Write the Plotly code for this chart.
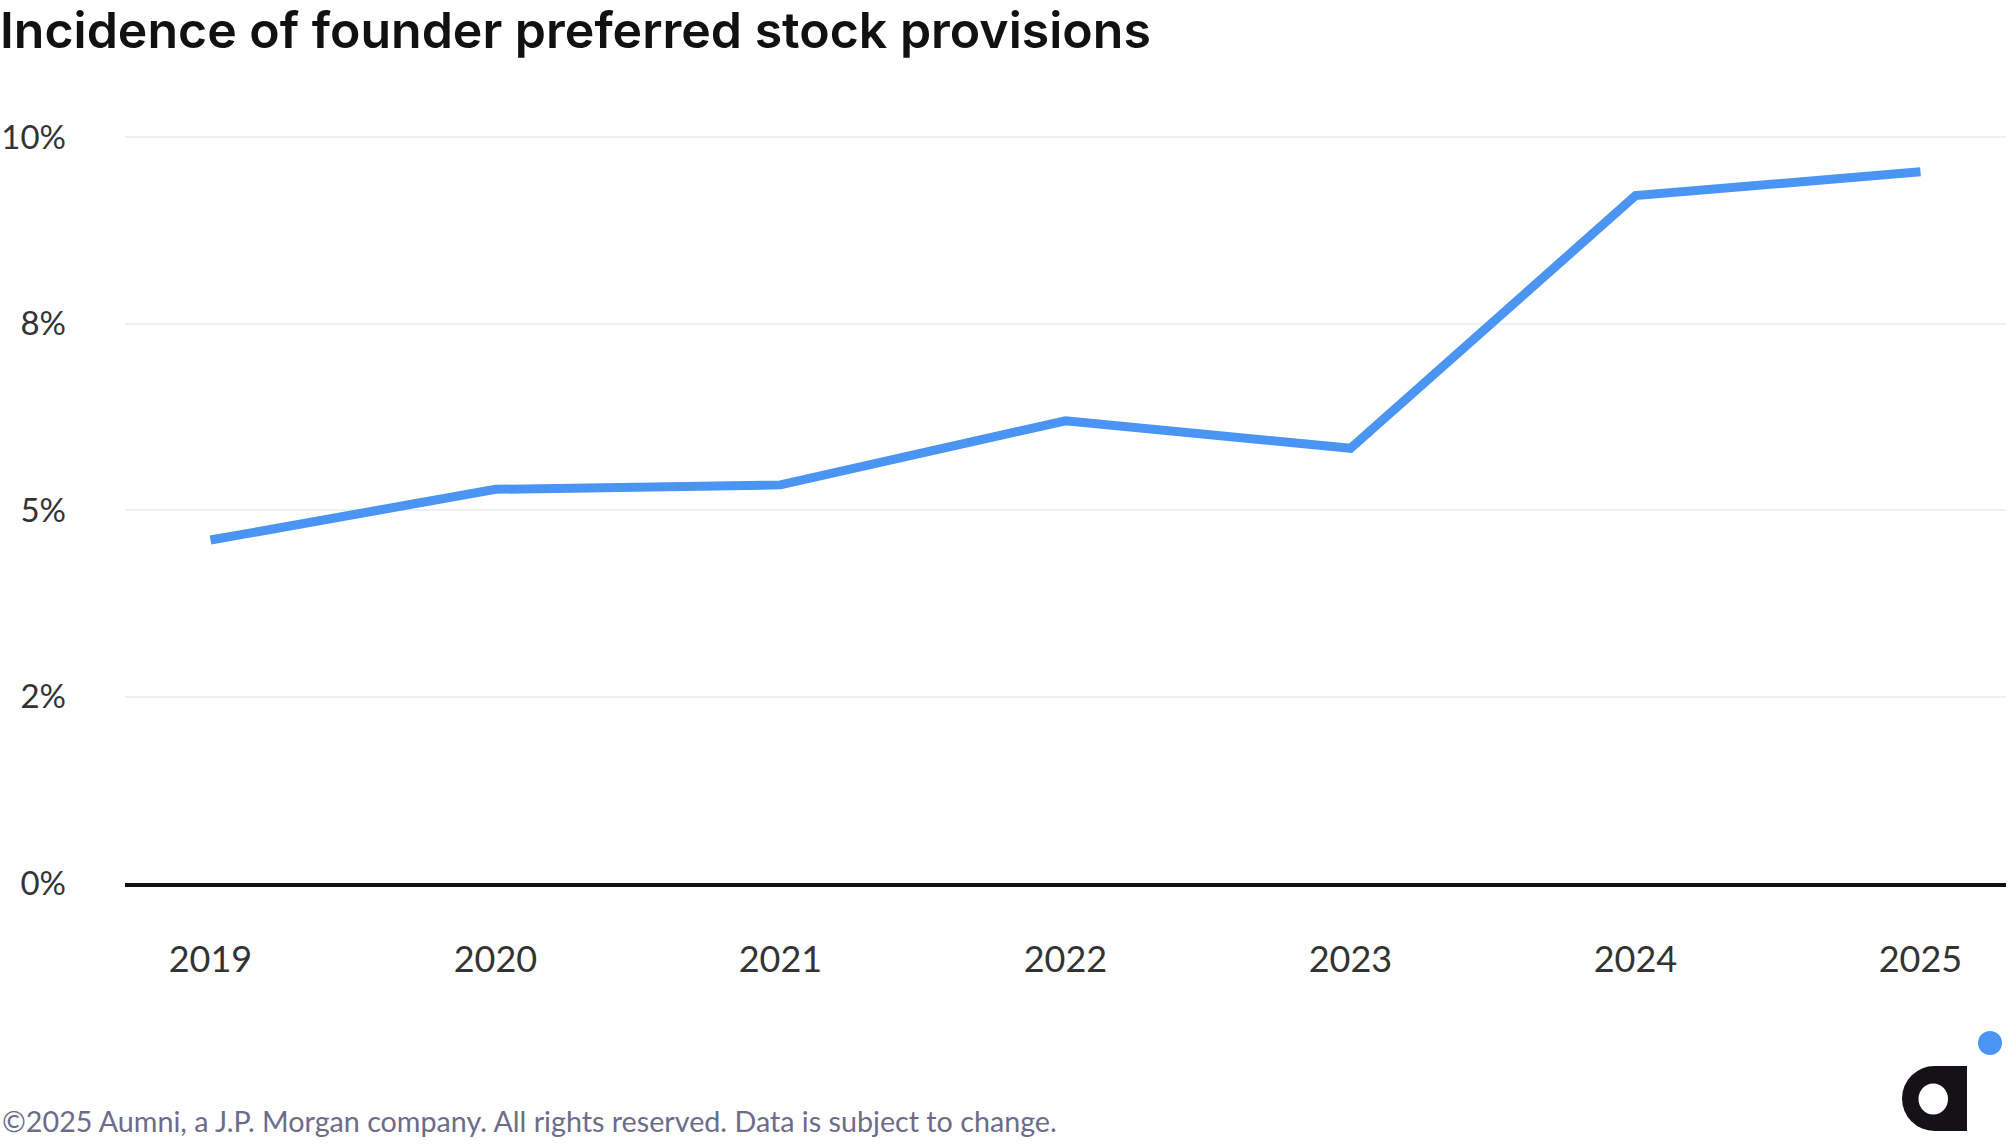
import plotly.graph_objects as go

years = [2019, 2020, 2021, 2022, 2023, 2024, 2025]
incidence = [4.60, 5.28, 5.34, 6.20, 5.83, 9.22, 9.54]
y_ticks = [0, 2.5, 5, 7.5, 10]
y_ticktext = ["0%", "2%", "5%", "8%", "10%"]

W, H = 2016, 1147
ML, MR, MT, MB = 125, 10, 130, 264
PW = W - ML - MR
PH = H - MT - MB


def px_x(p):
    return (p - ML) / PW


def px_y(p):
    return (H - MB - p) / PH


fig = go.Figure()
fig.add_trace(go.Scatter(
    x=years, y=incidence, mode="lines",
    line=dict(color="#4a94f4", width=9),
    hoverinfo="skip", showlegend=False,
))

shapes = [
    # logo: bowl of "a"
    dict(type="circle", xref="paper", yref="paper",
         x0=px_x(1902), x1=px_x(1967), y0=px_y(1131), y1=px_y(1066),
         fillcolor="#141217", line=dict(width=0)),
    dict(type="rect", xref="paper", yref="paper",
         x0=px_x(1934.5), x1=px_x(1967), y0=px_y(1131), y1=px_y(1066),
         fillcolor="#141217", line=dict(width=0)),
    dict(type="circle", xref="paper", yref="paper",
         x0=px_x(1918.5), x1=px_x(1948), y0=px_y(1114.5), y1=px_y(1083.5),
         fillcolor="#ffffff", line=dict(width=0)),
    # blue dot
    dict(type="circle", xref="paper", yref="paper",
         x0=px_x(1978), x1=px_x(2002), y0=px_y(1055), y1=px_y(1031),
         fillcolor="#4a94f4", line=dict(width=0)),
]

fig.update_layout(
    width=W, height=H,
    margin=dict(l=ML, r=MR, t=MT, b=MB, autoexpand=False),
    paper_bgcolor="#ffffff", plot_bgcolor="#ffffff",
    title=dict(
        text="Incidence of founder preferred stock provisions",
        x=0.0, xref="container", xanchor="left",
        y=1 - 30 / H, yref="container", yanchor="middle",
        font=dict(family="Inter", size=50, color="#111111", weight=600),
    ),
    xaxis=dict(
        range=[2018.7, 2025.3],
        tickvals=years, ticktext=[str(y) for y in years],
        showgrid=False, zeroline=False,
        showline=True, linecolor="#111111", linewidth=4,
        ticks="", ticklabelstandoff=42, automargin=False,
        tickfont=dict(family="Lato", size=36, color="#333333"),
        fixedrange=True,
    ),
    yaxis=dict(
        range=[0, 10.1],
        tickvals=y_ticks, ticktext=y_ticktext,
        showgrid=True, gridcolor="#efeff3", gridwidth=2,
        zeroline=False, showline=False,
        ticks="", ticklabelstandoff=58, automargin=False,
        tickfont=dict(family="Lato", size=33, color="#333333"),
        fixedrange=True,
    ),
    shapes=shapes,
    annotations=[
        dict(
            text="©2025 Aumni, a J.P. Morgan company. All rights reserved. Data is subject to change.",
            xref="paper", yref="paper",
            x=px_x(0), y=px_y(1121), xanchor="left", yanchor="middle",
            showarrow=False,
            font=dict(family="Lato", size=28.7, color="#6c6c8a"),
        )
    ],
)

fig.write_html(
    "out.html",
    config={"displayModeBar": False},
    post_script="document.body.style.margin='0';document.body.style.overflow='hidden';",
)
